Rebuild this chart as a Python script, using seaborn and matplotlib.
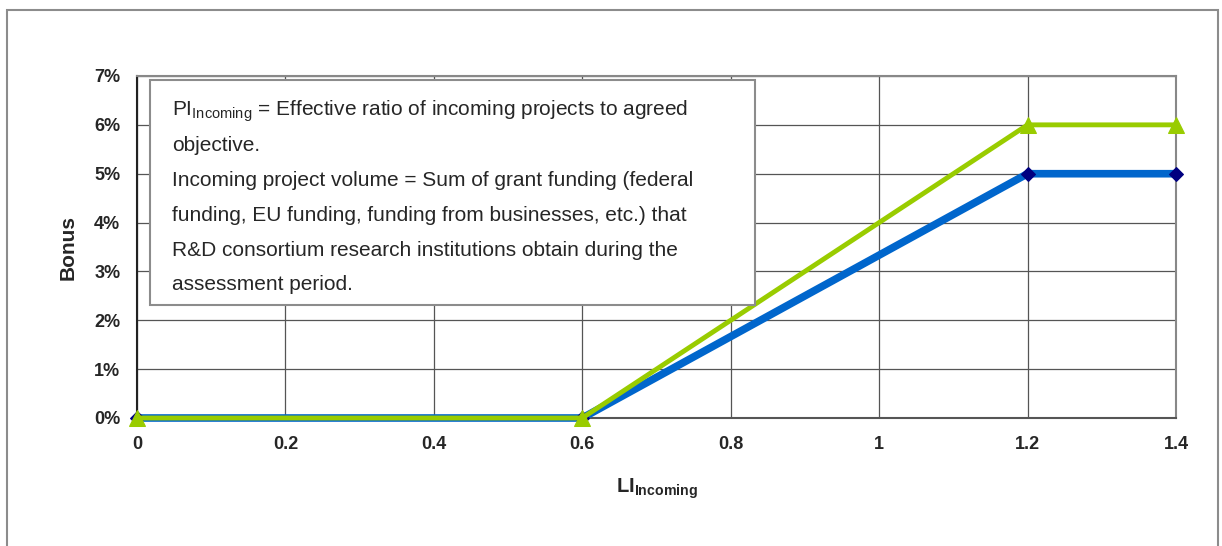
import numpy as np
import pandas as pd
import matplotlib
matplotlib.use("Agg")
import matplotlib.pyplot as plt
from matplotlib.patches import Rectangle
import seaborn as sns

sns.set_style("white")
plt.rcParams["font.family"] = ["Liberation Sans", "DejaVu Sans"]
plt.rcParams["mathtext.fontset"] = "custom"
plt.rcParams["mathtext.rm"] = "Liberation Sans"
plt.rcParams["mathtext.bf"] = "Liberation Sans:bold"

# =========================
# DATA
# =========================
li_values = [0, 0.6, 1.2, 1.4]
bonus_blue = [0, 0, 5, 5]
bonus_green = [0, 0, 6, 6]
x_ticks = [0, 0.2, 0.4, 0.6, 0.8, 1, 1.2, 1.4]
x_labels = ["0", "0.2", "0.4", "0.6", "0.8", "1", "1.2", "1.4"]
y_ticks = [0, 1, 2, 3, 4, 5, 6, 7]
y_labels = [f"{v}%" for v in y_ticks]

df = pd.DataFrame({"li": li_values, "blue": bonus_blue, "green": bonus_green})

fig = plt.figure(figsize=(12.22, 5.46), dpi=100)
ax = fig.add_axes([137 / 1222, 1 - 418 / 546, (1176 - 137) / 1222, (418 - 76) / 546])

# outer chart border
fig.patches.append(Rectangle((7 / 1222, -0.02), 1211 / 1222, 1 - 10 / 546 + 0.02,
                             transform=fig.transFigure, fill=False,
                             edgecolor="#8c8c8c", linewidth=1.5))

sns.lineplot(data=df, x="li", y="blue", ax=ax, color="#0066CC", linewidth=5.5,
             marker="D", markersize=7, markerfacecolor="#000080",
             markeredgecolor="#000080", zorder=3, clip_on=False)
sns.lineplot(data=df, x="li", y="green", ax=ax, color="#99CC00", linewidth=3.5,
             marker="^", markersize=11, markerfacecolor="#99CC00",
             markeredgecolor="#99CC00", zorder=4, clip_on=False)

ax.set_xlim(0, 1.4)
ax.set_ylim(0, 7)
ax.set_xticks(x_ticks)
ax.set_xticklabels(x_labels, fontsize=13, fontweight="bold")
ax.set_yticks(y_ticks)
ax.set_yticklabels(y_labels, fontsize=13, fontweight="bold")
ax.grid(True, color="#555555", linewidth=0.9)
ax.tick_params(axis="x", length=5, width=1, color="#555555", pad=8)
ax.tick_params(axis="y", length=8, width=1, color="#333333", pad=4)
for side in ["top", "right"]:
    ax.spines[side].set_color("#888888")
    ax.spines[side].set_linewidth(1.5)
ax.spines["left"].set_color("#222222")
ax.spines["left"].set_linewidth(1.5)
ax.spines["bottom"].set_color("#555555")
ax.spines["bottom"].set_linewidth(1.5)
ax.set_axisbelow(True)

ax.set_xlabel(r"LI$_{\mathbf{Incoming}}$", fontsize=14.5, fontweight="bold", labelpad=17)
ax.set_ylabel("Bonus", fontsize=15, fontweight="bold", labelpad=12)

# note box
fig.patches.append(Rectangle((150 / 1222, 1 - 305 / 546), (755 - 150) / 1222, (305 - 80) / 546,
                             transform=fig.transFigure, facecolor="white",
                             edgecolor="#8c8c8c", linewidth=1.5, zorder=5))
lines = [
    r"PI$_{\mathregular{Incoming}}$ = Effective ratio of incoming projects to agreed",
    "objective.",
    "Incoming project volume = Sum of grant funding (federal",
    "funding, EU funding, funding from businesses, etc.) that",
    "R&D consortium research institutions obtain during the",
    "assessment period.",
]
for i, t in enumerate(lines):
    y = 111 + i * 34.8
    fig.text(172 / 1222, 1 - y / 546, t, fontsize=15, va="center", ha="left", zorder=6)

fig.savefig("out.png", dpi=100)
